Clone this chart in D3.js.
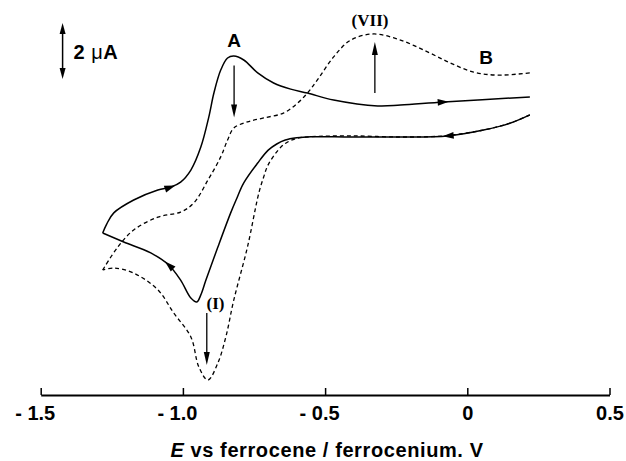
<!DOCTYPE html>
<html><head><meta charset="utf-8">
<script src="https://cdn.jsdelivr.net/npm/d3@7"></script>
<style>body{margin:0;background:#fff}svg{display:block}</style>
</head><body>
<script>
// ---- data (E in V vs Fc/Fc+, I in µA, arbitrary offset) ----
const xTicks = [-1.5, -1.0, -0.5, 0, 0.5];

// solid curve A, cathodic (lower) branch, scanned right -> left
const solidCathE = [0.22, 0.152, 0.057, -0.069, -0.235, -0.41, -0.55, -0.6, -0.64, -0.67, -0.7, -0.737, -0.786, -0.813, -0.832, -0.877, -0.919, -0.937, -0.951, -0.972, -1.008, -1.05, -1.113, -1.208, -1.282];
const solidCathI = [3.04, 2.75, 2.50, 2.29, 2.25, 2.25, 2.26, 2.22, 2.14, 2.0, 1.78, 1.32, 0.61, 0.0, -0.46, -1.68, -2.86, -3.39, -3.64, -3.5, -2.86, -2.32, -1.89, -1.5, -1.18];
// solid curve A, anodic (upper) branch, scanned left -> right
const solidAnodE = [-1.282, -1.268, -1.243, -1.173, -1.088, -1.043, -1.008, -0.972, -0.937, -0.909, -0.891, -0.867, -0.843, -0.821, -0.786, -0.737, -0.681, -0.621, -0.562, -0.47, -0.315, -0.235, -0.083, 0.22];
const solidAnodI = [-1.18, -0.86, -0.46, 0.0, 0.36, 0.46, 0.64, 1.07, 1.89, 2.96, 3.82, 4.64, 5.07, 5.14, 5.0, 4.54, 4.18, 3.96, 3.82, 3.57, 3.36, 3.39, 3.5, 3.68];

// dashed curve B, cathodic branch, right -> left
const dashCathE = [0.22, 0.152, 0.057, -0.083, -0.235, -0.41, -0.55, -0.6, -0.64, -0.67, -0.702, -0.716, -0.733, -0.773, -0.821, -0.849, -0.877, -0.912, -0.944, -0.972, -1.032, -1.088, -1.173, -1.243, -1.282];
const dashCathI = [3.04, 2.75, 2.5, 2.29, 2.25, 2.29, 2.26, 2.2, 2.02, 1.72, 1.22, 0.82, 0.25, -1.68, -3.57, -4.89, -5.82, -6.43, -5.96, -4.89, -4.04, -3.21, -2.61, -2.43, -2.5];
// dashed curve B, anodic branch, left -> right
const dashAnodE = [-1.282, -1.229, -1.173, -1.088, -1.008, -0.962, -0.912, -0.867, -0.843, -0.821, -0.773, -0.716, -0.645, -0.597, -0.562, -0.527, -0.47, -0.41, -0.329, -0.235, -0.14, -0.059, 0.022, 0.106, 0.22];
const dashAnodI = [-2.5, -1.68, -1.07, -0.61, -0.43, -0.11, 0.71, 1.54, 2.14, 2.57, 2.79, 2.93, 3.11, 3.46, 3.82, 4.29, 5.11, 5.71, 5.93, 5.71, 5.29, 4.89, 4.57, 4.46, 4.54];

// scan-direction arrowheads on the solid curve (branch, potential)
const scanArrowBranch = ["anod", "anod", "cath", "cath"];
const scanArrowE = [-1.043, -0.083, -0.069, -1.05];

// annotation arrows: potential, start current, tip current
const annotArrowE = [-0.82, -0.325, -0.916];
const annotArrowFrom = [4.8, 3.82, -4.04];
const annotArrowTo = [2.95, 5.64, -5.89];

// scale bar: 2 µA
const scaleBarE = -1.423;
const scaleBarI = [4.32, 6.32];

// ---- drawing ----
const W = 626, H = 461;
const x = d3.scaleLinear().domain([-1.5, 0.5]).range([40.7, 609.5]);
const y = d3.scaleLinear().domain([-6.5, 6.5]).range([382, 18]);

const svg = d3.select("body").append("svg").attr("width", W).attr("height", H)
  .style("font-family", "'Liberation Sans', Arial, Helvetica, sans-serif");

const pts = (E, I) => E.map((e, i) => [e, I[i]]);
const line = d3.line().x(d => x(d[0])).y(d => y(d[1])).curve(d3.curveCatmullRom.alpha(0.5));

const curves = svg.append("g").attr("fill", "none").attr("stroke", "#000");
[pts(dashCathE, dashCathI), pts(dashAnodE, dashAnodI)].forEach(d =>
  curves.append("path").attr("d", line(d)).attr("stroke-width", 1.3).attr("stroke-dasharray", "4,3"));
const solid = {cath: pts(solidCathE, solidCathI), anod: pts(solidAnodE, solidAnodI)};
[solid.cath, solid.anod].forEach(d =>
  curves.append("path").attr("d", line(d)).attr("stroke-width", 1.5));

function head(px, py, ang, len, half) {
  const bx = px - len * Math.cos(ang), by = py - len * Math.sin(ang);
  const nx = -Math.sin(ang), ny = Math.cos(ang);
  svg.append("path")
    .attr("d", `M${px},${py}L${bx + half * nx},${by + half * ny}L${bx - half * nx},${by - half * ny}Z`)
    .attr("fill", "#000");
}

// scan arrows
scanArrowE.forEach((e, j) => {
  const arr = solid[scanArrowBranch[j]];
  let k = 0, best = Infinity;
  arr.forEach((p, i) => { const dd = Math.abs(p[0] - e); if (dd < best) { best = dd; k = i; } });
  const a = arr[k - 1], b = arr[k + 1];
  const ang = Math.atan2(y(b[1]) - y(a[1]), x(b[0]) - x(a[0]));
  const px = x(arr[k][0]) + 5 * Math.cos(ang), py = y(arr[k][1]) + 5 * Math.sin(ang);
  head(px, py, ang, 11, 3.5);
});

// annotation arrows
annotArrowE.forEach((e, j) => {
  const x0 = x(e), y0 = y(annotArrowFrom[j]), y1 = y(annotArrowTo[j]);
  const dir = y1 > y0 ? 1 : -1;
  svg.append("line").attr("x1", x0).attr("x2", x0).attr("y1", y0).attr("y2", y1 - dir * 8)
    .attr("stroke", "#000").attr("stroke-width", 1.3);
  head(x0, y1, dir > 0 ? Math.PI / 2 : -Math.PI / 2, 13, 3);
});

// scale bar
{
  const sx = x(scaleBarE), yb = y(scaleBarI[0]), yt = y(scaleBarI[1]);
  svg.append("line").attr("x1", sx).attr("x2", sx).attr("y1", yt + 6).attr("y2", yb - 6)
    .attr("stroke", "#000").attr("stroke-width", 1.5);
  head(sx, yt, -Math.PI / 2, 11, 3);
  head(sx, yb, Math.PI / 2, 11, 3);
  const t = svg.append("text").attr("x", sx + 11).attr("y", 59)
    .attr("font-size", 20).attr("font-weight", "bold").attr("letter-spacing", 0.5);
  t.append("tspan").text("2 ");
  t.append("tspan").attr("font-weight", "normal").text("μ");
  t.append("tspan").text("A");
}

// labels
svg.append("text").attr("x", 234).attr("y", 47).attr("text-anchor", "middle")
  .attr("font-size", 19).attr("font-weight", "bold").text("A");
svg.append("text").attr("x", 486).attr("y", 64).attr("text-anchor", "middle")
  .attr("font-size", 19).attr("font-weight", "bold").text("B");
svg.append("text").attr("x", 370).attr("y", 26).attr("text-anchor", "middle")
  .attr("font-family", "'Liberation Serif', 'Times New Roman', serif")
  .attr("font-size", 17).attr("font-weight", "bold").text("(VII)");
svg.append("text").attr("x", 215.5).attr("y", 309).attr("text-anchor", "middle")
  .attr("font-family", "'Liberation Serif', 'Times New Roman', serif")
  .attr("font-size", 17).attr("font-weight", "bold").text("(I)");

// x axis
const axis = d3.axisBottom(x).tickValues(xTicks).tickSizeInner(-7).tickSizeOuter(0).tickPadding(11)
  .tickFormat(d => d < 0 ? "- " + Math.abs(d).toFixed(1) : d === 0 ? "0" : d.toFixed(1));
const gx = svg.append("g").attr("transform", "translate(0,395)").call(axis);
gx.select(".domain").attr("stroke", "#000").attr("stroke-width", 2);
gx.selectAll(".tick line").attr("stroke", "#000").attr("stroke-width", 1.5);
gx.selectAll(".tick text").attr("fill", "#000").attr("font-size", 20).attr("font-weight", "bold")
  .attr("font-family", "'Liberation Sans', Arial, sans-serif")
  .attr("dx", d => d < 0 ? -6 : 0);

// axis title
const title = svg.append("text").attr("x", 327).attr("y", 457).attr("text-anchor", "middle")
  .attr("font-size", 20).attr("font-weight", "bold").attr("letter-spacing", 0.6);
title.append("tspan").attr("font-style", "italic").text("E");
title.append("tspan").text(" vs ferrocene / ferrocenium. V");
</script>
</body></html>
